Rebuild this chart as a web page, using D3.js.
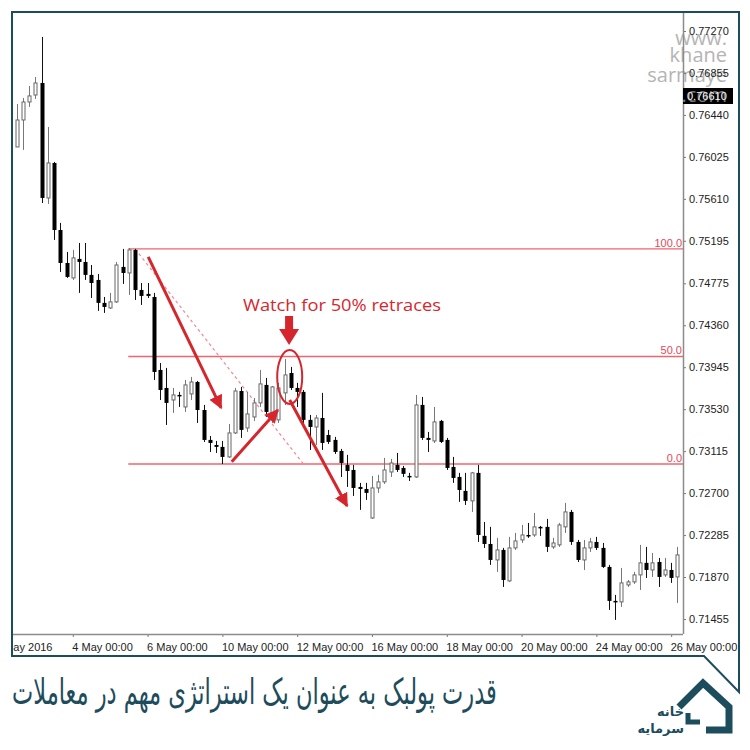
<!DOCTYPE html>
<html><head><meta charset="utf-8">
<script src="https://cdn.jsdelivr.net/npm/d3@7"></script>
<style>body{margin:0;background:#fff}svg{display:block}</style>
</head><body><svg id="c" width="750" height="750"></svg>
<script>
// ---- DATA (H4 candles, 2 May 2016 12:00 onward) ----
const openP = [0.76123,0.76390,0.76568,0.76637,0.76756,0.75619,0.75965,0.75302,0.74976,0.74828,
0.75016,0.74986,0.74858,0.74808,0.74581,0.74531,0.74591,0.74937,0.74877,0.75105,
0.74709,0.74670,0.74640,0.73918,0.73740,0.73621,0.73671,0.73552,0.73681,0.73799,
0.73522,0.73226,0.73176,0.73157,0.73058,0.73295,0.73710,0.73344,0.73453,0.73592,
0.73770,0.73453,0.73424,0.73691,0.73888,0.73740,0.73701,0.73424,0.73354,0.73443,
0.73275,0.73226,0.73117,0.72979,0.72929,0.72761,0.72741,0.72454,0.72751,0.72811,
0.72909,0.72979,0.72949,0.72870,0.72860,0.73572,0.73246,0.73216,0.73414,0.73226,
0.72959,0.72860,0.72722,0.72623,0.72900,0.72277,0.72197,0.72039,0.72138,0.71832,
0.72158,0.72237,0.72286,0.72286,0.72366,0.72366,0.72168,0.72188,0.72366,0.72514,
0.72217,0.72039,0.72158,0.72217,0.72158,0.71970,0.71634,0.71624,0.71792,0.71822,
0.71891,0.72010,0.71940,0.72019,0.71891,0.71940,0.71871];
const highP = [0.76548,0.76608,0.76726,0.76815,0.77211,0.76321,0.75975,0.75372,0.75085,0.75105,
0.75174,0.75174,0.74956,0.74867,0.74640,0.74680,0.74986,0.75115,0.75124,0.75115,
0.74778,0.74778,0.74680,0.73987,0.73938,0.73740,0.73701,0.73819,0.73849,0.73809,
0.73572,0.73265,0.73216,0.73216,0.73384,0.73740,0.73750,0.73701,0.73641,0.73918,
0.73839,0.73760,0.73790,0.74027,0.73948,0.73790,0.73720,0.73473,0.73473,0.73691,
0.73325,0.73256,0.73137,0.73078,0.72979,0.72801,0.72801,0.72870,0.72880,0.73048,
0.73038,0.73097,0.72969,0.72900,0.73671,0.73651,0.73305,0.73552,0.73424,0.73246,
0.73058,0.72900,0.72900,0.72909,0.72979,0.72415,0.72366,0.72257,0.72158,0.72267,
0.72306,0.72385,0.72405,0.72504,0.72375,0.72445,0.72257,0.72405,0.72603,0.72534,
0.72237,0.72237,0.72257,0.72267,0.72207,0.71990,0.71693,0.71960,0.71841,0.71921,
0.72188,0.72168,0.72108,0.72059,0.72059,0.72010,0.72168];
const lowP = [0.76123,0.76094,0.76519,0.76598,0.75569,0.75560,0.75204,0.74887,0.74828,0.74808,
0.74680,0.74808,0.74630,0.74502,0.74482,0.74521,0.74581,0.74769,0.74660,0.74610,
0.74561,0.74630,0.73819,0.73621,0.73374,0.73493,0.73552,0.73503,0.73621,0.73394,
0.73206,0.73107,0.73097,0.72988,0.73048,0.73285,0.73246,0.73305,0.73414,0.73552,
0.73453,0.73394,0.73394,0.73572,0.73720,0.73552,0.73394,0.73127,0.73176,0.73127,
0.73186,0.73087,0.72860,0.72761,0.72672,0.72534,0.72633,0.72445,0.72702,0.72791,
0.72860,0.72909,0.72860,0.72820,0.72850,0.73226,0.73107,0.73196,0.73196,0.72929,
0.72801,0.72613,0.72583,0.72514,0.72217,0.72158,0.71990,0.71921,0.71772,0.71822,
0.72138,0.72207,0.72257,0.72267,0.72277,0.72118,0.72148,0.72168,0.72306,0.72188,
0.72019,0.71940,0.72118,0.72138,0.71960,0.71545,0.71446,0.71574,0.71772,0.71802,
0.71742,0.71861,0.71871,0.71772,0.71871,0.71812,0.71614];
const closeP = [0.76390,0.76568,0.76628,0.76756,0.75619,0.75965,0.75302,0.74976,0.74838,0.75026,
0.74986,0.74858,0.74778,0.74581,0.74541,0.74591,0.74956,0.74877,0.75105,0.74709,
0.74650,0.74650,0.73898,0.73720,0.73592,0.73671,0.73661,0.73770,0.73799,0.73522,
0.73226,0.73196,0.73157,0.73058,0.73295,0.73710,0.73325,0.73483,0.73592,0.73780,
0.73503,0.73750,0.73740,0.73869,0.73740,0.73701,0.73424,0.73354,0.73443,0.73196,
0.73206,0.73107,0.72998,0.72919,0.72751,0.72741,0.72702,0.72751,0.72811,0.72929,
0.72998,0.72929,0.72890,0.72860,0.73572,0.73246,0.73226,0.73404,0.73206,0.72949,
0.72850,0.72731,0.72623,0.72900,0.72286,0.72197,0.72039,0.72138,0.71841,0.72158,
0.72227,0.72286,0.72277,0.72366,0.72356,0.72168,0.72207,0.72385,0.72514,0.72217,
0.72039,0.72158,0.72217,0.72158,0.71970,0.71634,0.71624,0.71812,0.71822,0.71891,
0.72010,0.71940,0.72010,0.71871,0.71940,0.71861,0.72089];

const xTickBars = [-3.4, 9, 21, 33, 45, 57, 69, 81, 93, 105];
const xTickLabels = ["2 May 2016","4 May 00:00","6 May 00:00","10 May 00:00","12 May 00:00",
  "16 May 00:00","18 May 00:00","20 May 00:00","24 May 00:00","26 May 00:00"];
const yTickValues = [0.77270,0.76855,0.76440,0.76025,0.75610,0.75195,0.74775,0.74360,
  0.73945,0.73530,0.73115,0.72700,0.72285,0.71870,0.71455];
const yTickLabels = ["0.77270","0.76855","0.76440","0.76025","0.75610","0.75195","0.74775","0.74360",
  "0.73945","0.73530","0.73115","0.72700","0.72285","0.71870","0.71455"];
const fibLevels = [0.75115, 0.74051, 0.72988];
const fibLabels = ["100.0", "50.0", "0.0"];
const fibStartBar = 17.9;
const priceBoxLabel = "0.76610";
const annotation = "Watch for 50% retraces";
const title = "قدرت پولبک به عنوان یک استراتژی مهم در معاملات";
const watermark = ["www.", "khane", "sarmaye", ".com"];
const logoWords = ["خانه", "سرمایه"];
// annotation anchors in (bar, price)
const trendDash = [[19, 0.75115], [46, 0.72988]];
const arrowsData = [
  [[21.1, 0.75036], [32.8, 0.73542]],
  [[34.5, 0.73009], [41.9, 0.73522]],
  [[43.8, 0.73621], [53.0, 0.72573]]
];
const downArrow = [43.7, 0.74452, 0.74165];
const circleAt = [43.8, 0.73849];

// ---- SCALES ----
const svg = d3.select('#c');
const plotL = 12, plotR = 683, plotT = 12, plotB = 634;
const x = d3.scaleLinear().domain([0, 106]).range([16.7, 677.4]);
const y = d3.scaleLinear().domain([0.71455, 0.77270]).range([619, 31]);
const teal = '#1d4c5c';
const red = '#d6262d';

const defs = svg.append('defs');
defs.append('clipPath').attr('id', 'plotclip').append('rect')
  .attr('x', plotL + 1).attr('y', plotT + 1).attr('width', plotR - plotL - 1).attr('height', plotB - plotT - 1);
defs.append('clipPath').attr('id', 'xclip').append('rect')
  .attr('x', plotL + 1).attr('y', 0).attr('width', 740 - plotL).attr('height', 22);
defs.append('marker').attr('id', 'ah').attr('viewBox', '0 0 10 10').attr('refX', 9).attr('refY', 5)
  .attr('markerWidth', 4.6).attr('markerHeight', 4.6).attr('orient', 'auto').attr('markerUnits', 'strokeWidth')
  .append('path').attr('d', 'M0,0 L10,5 L0,10 Z').attr('fill', red);

// ---- WATERMARK ----
const wm = svg.append('g').attr('font-family', 'Open Sans, Liberation Sans, sans-serif')
  .attr('font-size', 20).attr('fill', '#b4b4b4').attr('text-anchor', 'end');
[38, 55, 75].forEach((yy, k) => wm.append('text').attr('x', 727).attr('y', yy + 7).text(watermark[k]));

// ---- FIB LINES ----
const fib = svg.append('g');
fibLevels.forEach((v, k) => {
  fib.append('line').attr('x1', x(fibStartBar)).attr('x2', plotR).attr('y1', y(v)).attr('y2', y(v))
    .attr('stroke', '#f0646e').attr('stroke-width', 1.4);
  fib.append('text').attr('x', plotR - 1).attr('y', y(v) - 2).attr('text-anchor', 'end')
    .attr('font-family', 'Liberation Sans, sans-serif').attr('font-size', 11).attr('fill', '#e3495a').text(fibLabels[k]);
});
fib.append('line').attr('x1', x(trendDash[0][0])).attr('y1', y(trendDash[0][1]))
  .attr('x2', x(trendDash[1][0])).attr('y2', y(trendDash[1][1]))
  .attr('stroke', '#f28890').attr('stroke-width', 1.2).attr('stroke-dasharray', '3,3');

// ---- CANDLES ----
const cg = svg.append('g').attr('clip-path', 'url(#plotclip)');
const bars = d3.range(openP.length).map(i => ({ i, o: openP[i], h: highP[i], l: lowP[i], c: closeP[i] }));
bars.forEach(b => {
  const cx = Math.round(x(b.i));
  const up = b.c >= b.o;
  cg.append('line').attr('x1', cx + 0.5).attr('x2', cx + 0.5).attr('y1', y(b.h)).attr('y2', y(b.l))
    .attr('stroke', up ? '#777' : '#111').attr('stroke-width', 1);
  if (up) {
    const top = y(b.c), bot = y(b.o);
    cg.append('rect').attr('x', cx - 1).attr('y', top).attr('width', 3).attr('height', Math.max(1, bot - top))
      .attr('fill', '#fff').attr('stroke', '#666').attr('stroke-width', 1);
  } else {
    const top = y(b.o), bot = y(b.c);
    cg.append('rect').attr('x', cx - 1.5).attr('y', top).attr('width', 4).attr('height', Math.max(1.5, bot - top))
      .attr('fill', '#000');
  }
});

// ---- ANNOTATIONS ----
const an = svg.append('g');
arrowsData.forEach(a => {
  an.append('line').attr('x1', x(a[0][0])).attr('y1', y(a[0][1])).attr('x2', x(a[1][0])).attr('y2', y(a[1][1]))
    .attr('stroke', red).attr('stroke-width', 3).attr('marker-end', 'url(#ah)');
});
{
  const dx = x(downArrow[0]), y1 = y(downArrow[1]), y2 = y(downArrow[2]);
  an.append('path').attr('fill', red)
    .attr('d', `M${dx - 4},${y1} H${dx + 4} V${y2 - 16} H${dx + 10} L${dx},${y2} L${dx - 10},${y2 - 16} H${dx - 4} Z`);
}
an.append('ellipse').attr('cx', x(circleAt[0])).attr('cy', y(circleAt[1])).attr('rx', 12.5).attr('ry', 27)
  .attr('fill', 'none').attr('stroke', red).attr('stroke-width', 2);
an.append('text').attr('x', 243).attr('y', 311).attr('font-family', 'Open Sans, Liberation Sans, sans-serif')
  .attr('font-size', 16.5).attr('fill', red).attr('textLength', 198).attr('lengthAdjust', 'spacingAndGlyphs')
  .text(annotation);

// ---- AXES ----
const xAxis = d3.axisBottom(x).tickValues(xTickBars).tickFormat((d, k) => xTickLabels[k]).tickSize(3).tickPadding(6);
const gx = svg.append('g').attr('transform', `translate(0,${plotB})`).call(xAxis);
gx.select('.domain').remove();
gx.selectAll('.tick line').attr('stroke', '#777');
gx.selectAll('.tick text').attr('text-anchor', 'start').attr('dx', -1)
  .attr('font-family', 'Liberation Sans, sans-serif').attr('font-size', 11).attr('fill', '#222');
gx.attr('clip-path', 'url(#xclip)');
svg.append('line').attr('x1', plotL).attr('x2', plotR).attr('y1', plotB + 0.5).attr('y2', plotB + 0.5)
  .attr('stroke', '#8c8c8c').attr('stroke-width', 1.5);

const yAxis = d3.axisRight(y).tickValues(yTickValues).tickFormat((d, k) => yTickLabels[k]).tickSize(3).tickPadding(3);
const gy = svg.append('g').attr('transform', `translate(${plotR},0)`).call(yAxis);
gy.select('.domain').remove();
gy.selectAll('.tick line').attr('stroke', '#777');
gy.selectAll('.tick text').attr('font-family', 'Liberation Sans, sans-serif').attr('font-size', 11).attr('fill', '#222');
svg.append('line').attr('x1', plotR + 0.5).attr('x2', plotR + 0.5).attr('y1', plotT).attr('y2', plotB)
  .attr('stroke', '#8c8c8c').attr('stroke-width', 1.5);

// current price box
svg.append('rect').attr('x', plotR).attr('y', 88).attr('width', 50).attr('height', 16).attr('fill', '#000');
svg.append('text').attr('x', plotR + 4).attr('y', 100).attr('font-family', 'Liberation Sans, sans-serif')
  .attr('font-size', 11).attr('fill', '#fff').text(priceBoxLabel);
svg.append('text').attr('x', 727).attr('y', 102).attr('text-anchor', 'end')
  .attr('font-family', 'Open Sans, Liberation Sans, sans-serif').attr('font-size', 20)
  .attr('fill', '#ddd').attr('opacity', 0.55).text(watermark[3]);

// ---- FRAME ----
svg.append('path').attr('fill', 'none').attr('stroke', teal).attr('stroke-width', 2)
  .attr('d', 'M12,12 H739 V692 L704,656 H12 Z');

// ---- TITLE ----
const tt = svg.append('text').attr('font-family', 'DejaVu Sans, Noto Sans, sans-serif')
  .attr('font-size', 36).attr('fill', teal).attr('font-weight', 'normal').text(title);
const bb = tt.node().getBBox();
tt.attr('transform', `translate(${12 - bb.x * (485 / bb.width)},704) scale(${485 / bb.width},1)`);

// ---- LOGO ----
const lg = svg.append('g');
lg.append('path').attr('fill', 'none').attr('stroke', teal).attr('stroke-width', 7).attr('stroke-linejoin', 'miter')
  .attr('d', 'M679,707 L703,683 L729,707 V730 H706');
lg.append('path').attr('fill', 'none').attr('stroke', teal).attr('stroke-width', 5)
  .attr('d', 'M688,713 V722 H700');
lg.selectAll('text.lw').data(logoWords).join('text').attr('class', 'lw')
  .attr('x', 684).attr('y', (d, k) => 716 + k * 17).attr('text-anchor', 'end')
  .attr('font-family', 'DejaVu Sans, sans-serif').attr('font-size', 13).attr('font-weight', 'bold')
  .attr('fill', teal).text(d => d);
</script></body></html>
